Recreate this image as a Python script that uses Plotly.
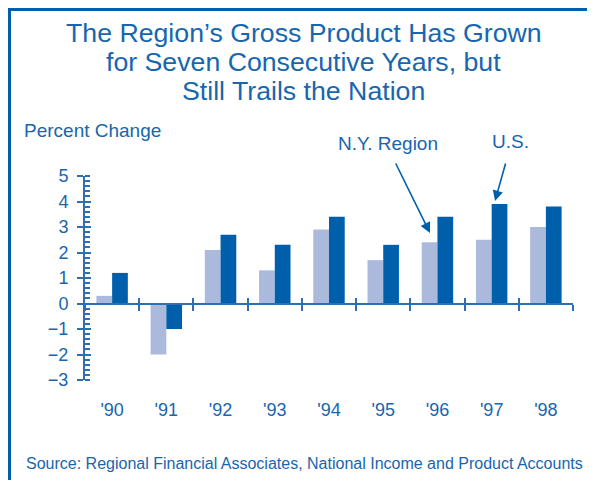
import plotly.graph_objects as go

years = ["'90", "'91", "'92", "'93", "'94", "'95", "'96", "'97", "'98"]
ny_region = [0.3, -2.0, 2.1, 1.3, 2.9, 1.7, 2.4, 2.5, 3.0]
us = [1.2, -1.0, 2.7, 2.3, 3.4, 2.3, 3.4, 3.9, 3.8]
y_ticks = [-3, -2, -1, 0, 1, 2, 3, 4, 5]
y_ticktext = [str(v).replace("-", "\u2212") for v in y_ticks]

TXT = "#1766ae"
AX = "#2e6fb2"
DARK = "#005fab"
LIGHT = "#abbadc"
FONT = "Liberation Sans, Arial, sans-serif"

# page body has an 8px margin; work in page coordinates and convert
OFF = 8
W, H = 595 - OFF, 480 - OFF
PL, PR, PT, PB = 85, 573, 176, 380  # plot area in page pixels
L, T = PL - OFF, PT - OFF
R, B = W - (PR - OFF), H - (PB - OFF)
pw, ph = PR - PL, PB - PT


def px(x):
    return (x - PL) / pw


def py(y):
    return (PB - y) / ph


xs = list(range(len(years)))

fig = go.Figure()
fig.add_trace(go.Bar(x=xs, y=ny_region, name="N.Y. Region", marker_color=LIGHT,
                     marker_line_width=0, showlegend=False))
fig.add_trace(go.Bar(x=xs, y=us, name="U.S.", marker_color=DARK,
                     marker_line_width=0, showlegend=False))

boundaries = [i - 0.5 for i in range(len(years) + 1)]

fig.update_layout(
    width=W, height=H,
    margin=dict(l=L, r=R, t=T, b=B, pad=0),
    paper_bgcolor="white", plot_bgcolor="white",
    barmode="group", bargap=0.42, bargroupgap=0,
    font=dict(family=FONT, color=TXT, size=18),
    xaxis=dict(range=[-0.5, 8.5], tickvals=xs, ticktext=years, showline=False,
               showgrid=False, zeroline=False, ticks="", ticklabelstandoff=17,
               tickfont=dict(size=18, color=TXT)),
    xaxis2=dict(overlaying="x", anchor="free", position=0.375, range=[-0.5, 8.5],
                tickvals=boundaries, showticklabels=False, showline=True,
                linecolor=AX, linewidth=2, ticks="outside", ticklen=6,
                tickwidth=2, tickcolor=AX, showgrid=False, zeroline=False),
    xaxis3=dict(overlaying="x", anchor="free", position=0.375, range=[-0.5, 8.5],
                tickvals=boundaries, showticklabels=False, showline=False,
                ticks="inside", ticklen=6, tickwidth=2, tickcolor=AX,
                showgrid=False, zeroline=False),
    yaxis=dict(range=[-3, 5], tickvals=y_ticks, ticktext=y_ticktext,
               showline=True, linecolor=AX, linewidth=2, ticks="outside",
               ticklen=6, tickwidth=2, tickcolor=AX, showgrid=False,
               zeroline=False, ticklabelstandoff=5,
               tickfont=dict(size=18, color=TXT),
               minor=dict(dtick=0.2, ticks="inside", ticklen=5, tickwidth=1.5,
                          tickcolor=AX, showgrid=False)),
    yaxis2=dict(overlaying="y", anchor="x", range=[-3, 5], tickvals=y_ticks,
                showticklabels=False, showline=False, ticks="inside", ticklen=6,
                tickwidth=2, tickcolor=AX, showgrid=False, zeroline=False),
)

# invisible traces to activate overlay axes
for xa, ya in (("x2", "y"), ("x3", "y"), ("x", "y2")):
    fig.add_trace(go.Scatter(x=[0], y=[0], xaxis=xa, yaxis=ya, mode="markers",
                             marker=dict(opacity=0), showlegend=False,
                             hoverinfo="skip"))

# frame (top and left edges)
fig.add_shape(type="line", xref="paper", yref="paper", x0=px(9.5), x1=px(9.5),
              y0=py(9.5), y1=py(490), line=dict(color=DARK, width=3))
fig.add_shape(type="line", xref="paper", yref="paper", x0=px(8), x1=px(600),
              y0=py(9.5), y1=py(9.5), line=dict(color=DARK, width=3))

title_lines = ["The Region\u2019s Gross Product Has Grown",
               "for Seven Consecutive Years, but",
               "Still Trails the Nation"]
for line, yy in zip(title_lines, [33, 62, 91]):
    fig.add_annotation(text=line, xref="paper", yref="paper", x=px(303.5), y=py(yy),
                       xanchor="center", yanchor="middle", showarrow=False,
                       font=dict(size=26.7, color=TXT, family=FONT))

fig.add_annotation(text="Percent Change", xref="paper", yref="paper", x=px(22),
                   y=py(131), xanchor="left", yanchor="middle", showarrow=False,
                   font=dict(size=19, color=TXT, family=FONT))
fig.add_annotation(text="Source: Regional Financial Associates, National Income and Product Accounts",
                   xref="paper", yref="paper", x=px(24), y=py(463), xanchor="left",
                   yanchor="middle", showarrow=False,
                   font=dict(size=16, color=TXT, family=FONT))

# series labels with arrows
fig.add_annotation(text="N.Y. Region", xref="paper", yref="paper", x=px(387.5), y=py(144),
                   xanchor="center", yanchor="middle", showarrow=False,
                   font=dict(size=19, color=TXT, family=FONT))
fig.add_annotation(text="U.S.", xref="paper", yref="paper", x=px(510), y=py(141),
                   xanchor="center", yanchor="middle", showarrow=False,
                   font=dict(size=19, color=TXT, family=FONT))
fig.add_annotation(text="", xref="paper", yref="paper", x=px(430), y=py(233),
                   axref="pixel", ayref="pixel", ax=-35, ay=-71, showarrow=True,
                   arrowhead=2, arrowsize=1.3, arrowwidth=1.6, arrowcolor=DARK)
fig.add_annotation(text="", xref="paper", yref="paper", x=px(495), y=py(201),
                   axref="pixel", ayref="pixel", ax=11, ay=-39, showarrow=True,
                   arrowhead=2, arrowsize=1.3, arrowwidth=1.6, arrowcolor=DARK)

fig.write_html("out.html")
